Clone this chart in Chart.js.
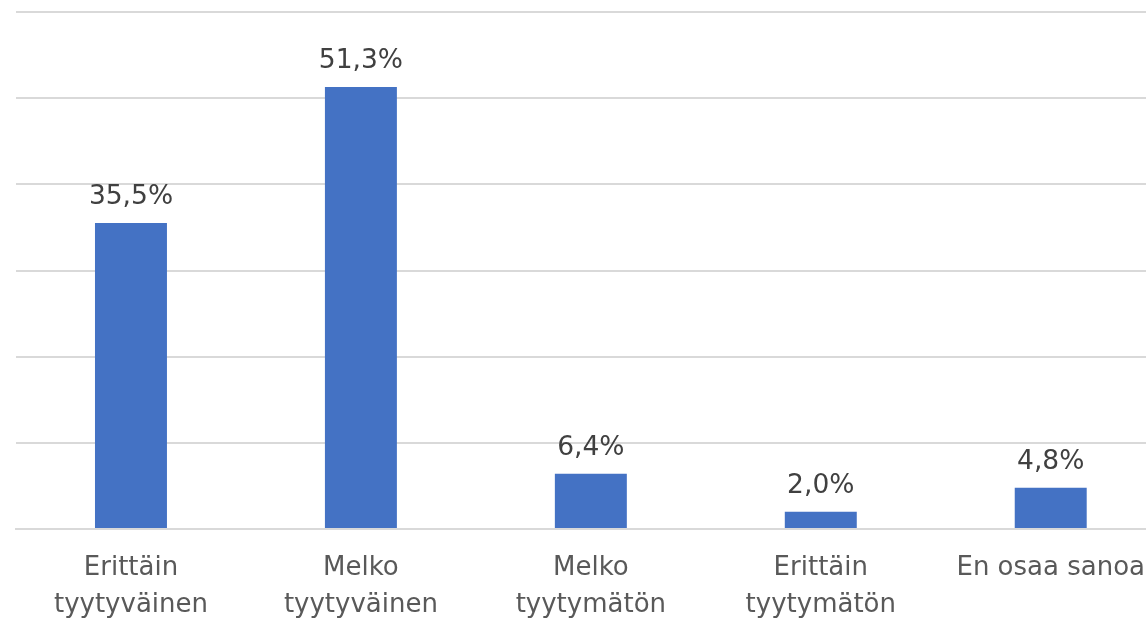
<!DOCTYPE html>
<html>
<head>
<meta charset="utf-8">
<script src="https://cdn.jsdelivr.net/npm/chart.js@4"></script>
<style>
  html, body { margin: 0; padding: 0; background: #ffffff; overflow: hidden; width: 1146px; height: 619px; }
  #wrap { width: 1166px; height: 619px; }
</style>
</head>
<body>
<div id="wrap"><canvas id="c" width="1166" height="619"></canvas></div>
<script>
const categories = [
  ["Erittäin", "tyytyväinen"],
  ["Melko", "tyytyväinen"],
  ["Melko", "tyytymätön"],
  ["Erittäin", "tyytymätön"],
  "En osaa sanoa"
];
const values = [35.5, 51.3, 6.4, 2.0, 4.8];
const valueLabels = ["35,5%", "51,3%", "6,4%", "2,0%", "4,8%"];
const yTicks = [0, 10, 20, 30, 40, 50, 60];

const FONT = "'DejaVu Sans', sans-serif";

const valueLabelPlugin = {
  id: 'valueLabels',
  afterDatasetsDraw(chart) {
    const ctx = chart.ctx;
    const meta = chart.getDatasetMeta(0);
    ctx.save();
    ctx.font = "26.5px " + FONT;
    ctx.fillStyle = '#404040';
    ctx.textAlign = 'center';
    ctx.textBaseline = 'alphabetic';
    meta.data.forEach((bar, i) => {
      ctx.fillText(valueLabels[i], bar.x, bar.y - 19);
    });
    ctx.restore();
  }
};

new Chart(document.getElementById('c'), {
  type: 'bar',
  data: {
    labels: categories,
    datasets: [{
      data: values,
      backgroundColor: '#4472C4',
      borderWidth: 0,
      barPercentage: 0.313,
      categoryPercentage: 1.0
    }]
  },
  options: {
    responsive: false,
    animation: false,
    devicePixelRatio: 1,
    layout: { padding: { left: 16, right: 0, top: 12, bottom: 0 } },
    plugins: { legend: { display: false }, tooltip: { enabled: false } },
    scales: {
      x: {
        grid: { display: false, drawTicks: false },
        border: { display: true, color: '#d9d9d9', width: 2 },
        ticks: {
          color: '#595959',
          font: { family: FONT, size: 26, lineHeight: 1.42 },
          padding: 21,
          maxRotation: 0,
          autoSkip: false
        },
        afterFit(scale) { scale.height = 90; }
      },
      y: {
        min: 0,
        max: 60,
        afterBuildTicks(scale) { scale.ticks = yTicks.map(v => ({ value: v })); },
        grid: { color: '#d9d9d9', lineWidth: 2, drawTicks: false },
        border: { display: false },
        ticks: { display: false },
        afterFit(scale) { scale.width = 0; }
      }
    }
  },
  plugins: [valueLabelPlugin]
});
</script>
</body>
</html>
